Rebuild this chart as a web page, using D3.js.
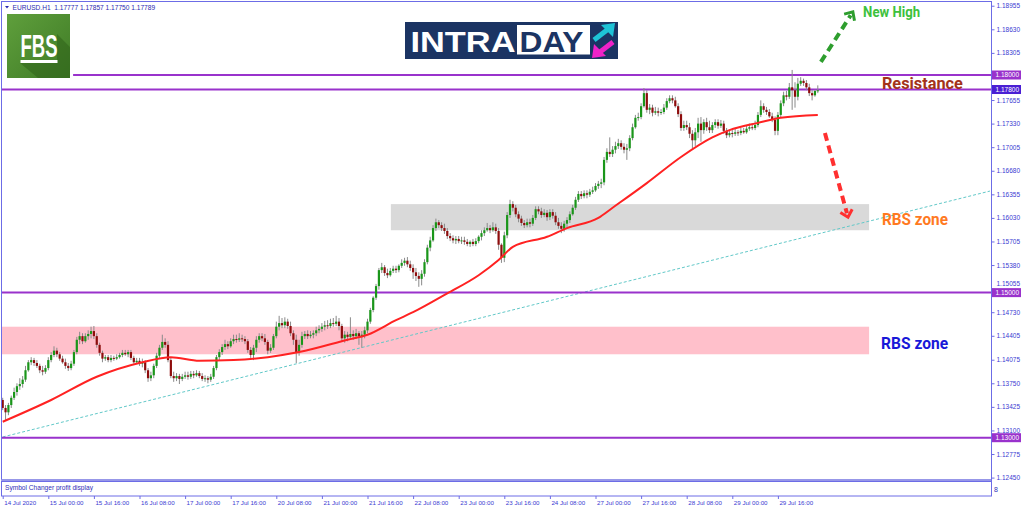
<!DOCTYPE html>
<html><head><meta charset="utf-8">
<script src="https://cdn.jsdelivr.net/npm/d3@7"></script>
<style>body{margin:0;background:#fff;overflow:hidden}svg{display:block}</style>
</head><body>
<svg id="c" width="1024" height="511"></svg>
<script>
// ---------- DATA (EURUSD H1, 14 Jul 2020 08:00 -> 30 Jul 2020 06:00) ----------
const opens=[
1.1352,1.1341,1.1335,1.1345,1.1355,1.1363,1.1371,1.1374,1.1380,1.1393,1.1404,1.1407,1.1403,1.1399,1.1393,1.1391,
1.1396,1.1407,1.1414,1.1420,1.1415,1.1409,1.1404,1.1399,1.1396,1.1402,1.1418,1.1435,1.1440,1.1433,1.1440,1.1443,
1.1447,1.1440,1.1428,1.1417,1.1409,1.1411,1.1407,1.1410,1.1409,1.1411,1.1414,1.1417,1.1415,1.1418,1.1410,1.1404,
1.1406,1.1402,1.1404,1.1393,1.1382,1.1386,1.1399,1.1413,1.1424,1.1432,1.1428,1.1407,1.1385,1.1382,1.1385,1.1381,
1.1384,1.1386,1.1384,1.1388,1.1386,1.1389,1.1385,1.1381,1.1382,1.1380,1.1384,1.1396,1.1411,1.1418,1.1425,1.1429,
1.1426,1.1433,1.1436,1.1435,1.1437,1.1436,1.1433,1.1421,1.1414,1.1424,1.1435,1.1440,1.1437,1.1432,1.1420,1.1424,
1.1440,1.1453,1.1458,1.1455,1.1460,1.1454,1.1444,1.1435,1.1418,1.1428,1.1440,1.1443,1.1440,1.1442,1.1444,1.1448,
1.1450,1.1453,1.1455,1.1454,1.1458,1.1457,1.1460,1.1454,1.1437,1.1442,1.1439,1.1443,1.1440,1.1444,1.1440,1.1442,
1.1448,1.1460,1.1476,1.1493,1.1509,1.1531,1.1535,1.1527,1.1524,1.1530,1.1533,1.1531,1.1537,1.1541,1.1544,1.1539,
1.1534,1.1528,1.1523,1.1519,1.1526,1.1542,1.1562,1.1572,1.1589,1.1597,1.1593,1.1589,1.1585,1.1578,1.1575,1.1572,
1.1574,1.1571,1.1572,1.1570,1.1567,1.1570,1.1567,1.1571,1.1577,1.1582,1.1586,1.1589,1.1586,1.1590,1.1585,1.1566,
1.1548,1.1579,1.1607,1.1622,1.1617,1.1608,1.1602,1.1596,1.1593,1.1597,1.1595,1.1603,1.1615,1.1612,1.1607,1.1610,
1.1604,1.1611,1.1606,1.1597,1.1592,1.1588,1.1595,1.1600,1.1608,1.1617,1.1628,1.1636,1.1633,1.1637,1.1635,1.1639,
1.1641,1.1647,1.1650,1.1652,1.1683,1.1694,1.1691,1.1697,1.1702,1.1706,1.1701,1.1697,1.1699,1.1713,1.1728,1.1741,
1.1742,1.1757,1.1775,1.1752,1.1755,1.1748,1.1750,1.1748,1.1749,1.1755,1.1764,1.1768,1.1765,1.1757,1.1746,1.1727,
1.1731,1.1728,1.1719,1.1710,1.1721,1.1733,1.1724,1.1735,1.1728,1.1724,1.1731,1.1735,1.1730,1.1733,1.1723,1.1717,
1.1720,1.1719,1.1721,1.1720,1.1723,1.1721,1.1726,1.1728,1.1727,1.1731,1.1745,1.1757,1.1752,1.1749,1.1743,1.1738,
1.1723,1.1745,1.1761,1.1772,1.1770,1.1783,1.1779,1.1770,1.1788,1.1792,1.1789,1.1783,1.1775,1.1772,1.17777];
const highs=[
1.1355,1.1345,1.1348,1.1358,1.1369,1.1375,1.1382,1.1385,1.1399,1.1407,1.1411,1.1410,1.1407,1.1402,1.1399,1.1400,
1.1411,1.1418,1.1426,1.1424,1.1418,1.1413,1.1409,1.1403,1.1406,1.1421,1.1439,1.1446,1.1444,1.1444,1.1448,1.1453,
1.1454,1.1444,1.1431,1.1420,1.1414,1.1414,1.1414,1.1413,1.1415,1.1417,1.1421,1.1421,1.1421,1.1421,1.1413,1.1410,
1.1410,1.1409,1.1407,1.1396,1.1391,1.1402,1.1417,1.1428,1.1442,1.1437,1.1433,1.1410,1.1391,1.1389,1.1388,1.1388,
1.1391,1.1391,1.1392,1.1392,1.1393,1.1392,1.1389,1.1386,1.1385,1.1388,1.1399,1.1414,1.1422,1.1429,1.1435,1.1433,
1.1437,1.1442,1.1442,1.1444,1.1442,1.1440,1.1436,1.1425,1.1428,1.1440,1.1444,1.1444,1.1443,1.1435,1.1429,1.1443,
1.1460,1.1468,1.1465,1.1466,1.1464,1.1460,1.1448,1.1442,1.1435,1.1446,1.1447,1.1448,1.1447,1.1448,1.1453,1.1455,
1.1458,1.1461,1.1462,1.1464,1.1465,1.1468,1.1465,1.1457,1.1447,1.1446,1.1466,1.1448,1.1450,1.1447,1.1447,1.1453,
1.1464,1.1479,1.1495,1.1512,1.1534,1.1541,1.1538,1.1533,1.1534,1.1537,1.1537,1.1539,1.1546,1.1548,1.1549,1.1544,
1.1539,1.1534,1.1528,1.1531,1.1546,1.1566,1.1577,1.1593,1.1602,1.1600,1.1597,1.1595,1.1589,1.1582,1.1579,1.1578,
1.1578,1.1577,1.1577,1.1574,1.1572,1.1574,1.1575,1.1579,1.1586,1.1590,1.1596,1.1593,1.1597,1.1595,1.1589,1.1568,
1.1584,1.1611,1.1628,1.1626,1.1621,1.1612,1.1606,1.1600,1.1602,1.1602,1.1607,1.1619,1.1619,1.1617,1.1615,1.1614,
1.1615,1.1615,1.1611,1.1603,1.1597,1.1599,1.1604,1.1612,1.1621,1.1632,1.1640,1.1640,1.1641,1.1641,1.1643,1.1646,
1.1651,1.1654,1.1657,1.1687,1.1699,1.1714,1.1702,1.1708,1.1712,1.1710,1.1706,1.1705,1.1717,1.1733,1.1745,1.1748,
1.1761,1.1782,1.1779,1.1760,1.1759,1.1756,1.1755,1.1753,1.1760,1.1768,1.1772,1.1772,1.1770,1.1761,1.1750,1.1737,
1.1737,1.1734,1.1724,1.1727,1.1741,1.1742,1.1739,1.1741,1.1737,1.1735,1.1739,1.1739,1.1738,1.1737,1.1727,1.1724,
1.1724,1.1726,1.1724,1.1727,1.1727,1.1730,1.1733,1.1733,1.1737,1.1749,1.1765,1.1761,1.1756,1.1753,1.1748,1.1743,
1.1749,1.1765,1.1777,1.1778,1.1789,1.1807,1.1790,1.1796,1.1797,1.1795,1.1793,1.1788,1.1779,1.1780,1.17857];
const lows=[
1.1338,1.1324,1.1331,1.1341,1.1352,1.1358,1.1366,1.1369,1.1377,1.1391,1.1400,1.1399,1.1396,1.1389,1.1386,1.1388,
1.1393,1.1404,1.1411,1.1411,1.1406,1.1402,1.1395,1.1392,1.1393,1.1399,1.1415,1.1429,1.1429,1.1431,1.1435,1.1437,
1.1436,1.1424,1.1413,1.1404,1.1406,1.1404,1.1404,1.1406,1.1407,1.1409,1.1411,1.1413,1.1411,1.1407,1.1402,1.1402,
1.1399,1.1397,1.1389,1.1377,1.1378,1.1382,1.1396,1.1410,1.1421,1.1424,1.1404,1.1382,1.1377,1.1378,1.1374,1.1378,
1.1381,1.1380,1.1381,1.1382,1.1384,1.1382,1.1378,1.1377,1.1375,1.1377,1.1381,1.1393,1.1407,1.1414,1.1421,1.1422,
1.1424,1.1429,1.1431,1.1432,1.1432,1.1429,1.1417,1.1410,1.1407,1.1418,1.1431,1.1433,1.1428,1.1415,1.1417,1.1421,
1.1437,1.1448,1.1451,1.1451,1.1450,1.1440,1.1428,1.1403,1.1413,1.1424,1.1436,1.1436,1.1437,1.1437,1.1440,1.1444,
1.1446,1.1448,1.1450,1.1451,1.1453,1.1454,1.1448,1.1432,1.1431,1.1433,1.1435,1.1435,1.1436,1.1428,1.1424,1.1437,
1.1444,1.1457,1.1473,1.1490,1.1504,1.1527,1.1523,1.1520,1.1522,1.1527,1.1527,1.1528,1.1534,1.1537,1.1535,1.1530,
1.1519,1.1516,1.1508,1.1510,1.1522,1.1539,1.1557,1.1570,1.1585,1.1589,1.1585,1.1581,1.1574,1.1571,1.1568,1.1567,
1.1568,1.1567,1.1566,1.1564,1.1563,1.1564,1.1564,1.1568,1.1572,1.1578,1.1584,1.1582,1.1584,1.1581,1.1559,1.1541,
1.1542,1.1575,1.1603,1.1612,1.1604,1.1597,1.1592,1.1589,1.1590,1.1590,1.1592,1.1600,1.1608,1.1603,1.1604,1.1599,
1.1600,1.1602,1.1593,1.1588,1.1582,1.1584,1.1589,1.1596,1.1606,1.1614,1.1625,1.1629,1.1630,1.1630,1.1632,1.1636,
1.1639,1.1643,1.1644,1.1648,1.1679,1.1687,1.1687,1.1692,1.1698,1.1697,1.1692,1.1683,1.1695,1.1710,1.1726,1.1737,
1.1739,1.1755,1.1748,1.1746,1.1743,1.1745,1.1743,1.1745,1.1746,1.1752,1.1761,1.1761,1.1755,1.1742,1.1723,1.1723,
1.1724,1.1713,1.1698,1.1702,1.1713,1.1708,1.1719,1.1723,1.1720,1.1720,1.1727,1.1726,1.1727,1.1719,1.1713,1.1714,
1.1714,1.1716,1.1716,1.1717,1.1719,1.1719,1.1723,1.1724,1.1724,1.1728,1.1742,1.1748,1.1745,1.1741,1.1735,1.1717,
1.1717,1.1742,1.1757,1.1765,1.1767,1.1752,1.1755,1.1765,1.1785,1.1785,1.1779,1.1771,1.1765,1.1770,1.17750];
const closes=[
1.1341,1.1335,1.1345,1.1355,1.1363,1.1371,1.1374,1.1380,1.1393,1.1404,1.1407,1.1403,1.1399,1.1393,1.1391,1.1396,
1.1407,1.1414,1.1420,1.1415,1.1409,1.1404,1.1399,1.1396,1.1402,1.1418,1.1435,1.1440,1.1433,1.1440,1.1443,1.1447,
1.1440,1.1428,1.1417,1.1409,1.1411,1.1407,1.1410,1.1409,1.1411,1.1414,1.1417,1.1415,1.1418,1.1410,1.1404,1.1406,
1.1402,1.1404,1.1393,1.1382,1.1386,1.1399,1.1413,1.1424,1.1432,1.1428,1.1407,1.1385,1.1382,1.1385,1.1381,1.1384,
1.1386,1.1384,1.1388,1.1386,1.1389,1.1385,1.1381,1.1382,1.1380,1.1384,1.1396,1.1411,1.1418,1.1425,1.1429,1.1426,
1.1433,1.1436,1.1435,1.1437,1.1436,1.1433,1.1421,1.1414,1.1424,1.1435,1.1440,1.1437,1.1432,1.1420,1.1424,1.1440,
1.1453,1.1458,1.1455,1.1460,1.1454,1.1444,1.1435,1.1418,1.1428,1.1440,1.1443,1.1440,1.1442,1.1444,1.1448,1.1450,
1.1453,1.1455,1.1454,1.1458,1.1457,1.1460,1.1454,1.1437,1.1442,1.1439,1.1443,1.1440,1.1444,1.1440,1.1442,1.1448,
1.1460,1.1476,1.1493,1.1509,1.1531,1.1535,1.1527,1.1524,1.1530,1.1533,1.1531,1.1537,1.1541,1.1544,1.1539,1.1534,
1.1528,1.1523,1.1519,1.1526,1.1542,1.1562,1.1572,1.1589,1.1597,1.1593,1.1589,1.1585,1.1578,1.1575,1.1572,1.1574,
1.1571,1.1572,1.1570,1.1567,1.1570,1.1567,1.1571,1.1577,1.1582,1.1586,1.1589,1.1586,1.1590,1.1585,1.1566,1.1548,
1.1579,1.1607,1.1622,1.1617,1.1608,1.1602,1.1596,1.1593,1.1597,1.1595,1.1603,1.1615,1.1612,1.1607,1.1610,1.1604,
1.1611,1.1606,1.1597,1.1592,1.1588,1.1595,1.1600,1.1608,1.1617,1.1628,1.1636,1.1633,1.1637,1.1635,1.1639,1.1641,
1.1647,1.1650,1.1652,1.1683,1.1694,1.1691,1.1697,1.1702,1.1706,1.1701,1.1697,1.1699,1.1713,1.1728,1.1741,1.1742,
1.1757,1.1775,1.1752,1.1755,1.1748,1.1750,1.1748,1.1749,1.1755,1.1764,1.1768,1.1765,1.1757,1.1746,1.1727,1.1731,
1.1728,1.1719,1.1710,1.1721,1.1733,1.1724,1.1735,1.1728,1.1724,1.1731,1.1735,1.1730,1.1733,1.1723,1.1717,1.1720,
1.1719,1.1721,1.1720,1.1723,1.1721,1.1726,1.1728,1.1727,1.1731,1.1745,1.1757,1.1752,1.1749,1.1743,1.1738,1.1723,
1.1745,1.1761,1.1772,1.1770,1.1783,1.1779,1.1770,1.1788,1.1792,1.1789,1.1783,1.1775,1.1772,1.1778,1.17789];

// moving average (red line) read at sample bars
const maIdx =[0,17,33,49,59,69,81,93,104,121,128,138,144,156,167,174,179,191,198,209,214,226,238,249,255,265,273,286];
const maVals=[1.1322,1.1352,1.1384,1.1404,1.1411,1.1406,1.1407,1.1411,1.1418,1.1435,1.1442,1.1462,1.1473,1.1499,1.1524,1.1545,1.1563,1.1577,1.1589,1.1603,1.1617,1.1651,1.1687,1.1714,1.1724,1.1734,1.1741,1.1745];

// time axis
const xTickIdx=[0,16,32,48,64,80,96,112,128,144,160,176,192,208,224,240,256,272];
const xTickLabels=["14 Jul 2020","15 Jul 00:00","15 Jul 16:00","16 Jul 08:00","17 Jul 00:00","17 Jul 16:00","20 Jul 08:00","21 Jul 00:00","21 Jul 16:00","22 Jul 08:00","23 Jul 00:00","23 Jul 16:00","24 Jul 08:00","27 Jul 00:00","27 Jul 16:00","28 Jul 08:00","29 Jul 00:00","29 Jul 16:00"];
// price axis
const yTickLabels=["1.18955","1.18630","1.18305","1.17655","1.17330","1.17005","1.16680","1.16355","1.16030","1.15705","1.15380","1.15055","1.14730","1.14405","1.14075","1.13750","1.13425","1.13100","1.12775","1.12450"];

// horizontal levels
const levelPrices=[1.18000,1.17800,1.15000,1.13000];
const levelFrom  =[24.7,-2,-2,-2];
const levelBoxColors=["#9932cc","#4a1fd4","#9932cc","#9932cc"];

// zones
const zoneNames=["grey","pink"];
const zoneFrom=[136.2,-2];
const zoneTo=[304,304];
const zoneTop=[1.1622,1.1453];
const zoneBottom=[1.1586,1.1415];
const zoneColors=["#d9d9d9","#ffc0cb"];

// trend line anchors
const trendIdx=[0,346.4];
const trendVals=[1.1301,1.1640];

// arrows [fromIdx, fromPrice, toIdx, toPrice]
const arrowGreen=[287.1,1.1818,298.3,1.1887];
const arrowRed=[288.5,1.1720,296.6,1.1604];

// labels
const noteTexts=["New High","Resistance","RBS zone","RBS zone"];
const noteIdx=[301.9,308.5,308.5,308.2];
const notePrice=[1.1880,1.1781,1.1593,1.1422];
const noteColors=["#3dc13d","#a3321a","#ff7a1f","#1818d8"];
const noteSizes=[14,17,17,17];
const noteWidths=[57,81,66,67];

// ---------- CHART ----------
const svg=d3.select("#c");
const frameL=1.5, frameR=991.5, frameT=1.5, frameB=480;
const x=d3.scaleLinear().domain([0,286]).range([2.7,2.7+286*2.85]);
const y=d3.scaleLinear().domain([1.13,1.18]).range([437.7,75]);

svg.append("rect").attr("width",1024).attr("height",511).attr("fill","#fff");
svg.append("defs").append("clipPath").attr("id","clip").append("rect")
  .attr("x",frameL+0.5).attr("y",frameT+0.5).attr("width",frameR-frameL-1).attr("height",frameB-frameT-1);
const g=svg.append("g").attr("clip-path","url(#clip)");

// zones
g.selectAll("rect.zone").data(zoneNames).join("rect").attr("class","zone")
  .attr("x",(d,i)=>x(zoneFrom[i])).attr("width",(d,i)=>x(zoneTo[i])-x(zoneFrom[i]))
  .attr("y",(d,i)=>y(zoneTop[i])).attr("height",(d,i)=>y(zoneBottom[i])-y(zoneTop[i]))
  .attr("fill",(d,i)=>zoneColors[i]);

// trend line
g.append("line").attr("x1",x(trendIdx[0])).attr("y1",y(trendVals[0]))
  .attr("x2",x(trendIdx[1])).attr("y2",y(trendVals[1]))
  .attr("stroke","#62c8c8").attr("stroke-width",1).attr("stroke-dasharray","3,2");

// levels
g.selectAll("line.level").data(levelPrices).join("line").attr("class","level")
  .attr("x1",(d,i)=>x(levelFrom[i])).attr("x2",frameR)
  .attr("y1",d=>y(d)).attr("y2",d=>y(d))
  .attr("stroke","#9932cc").attr("stroke-width",2);

// candles
const bars=d3.range(closes.length).map(i=>({i,o:opens[i],h:highs[i],l:lows[i],c:closes[i]}));
g.selectAll("line.wick").data(bars).join("line").attr("class","wick")
  .attr("x1",d=>x(d.i)).attr("x2",d=>x(d.i)).attr("y1",d=>y(d.h)).attr("y2",d=>y(d.l))
  .attr("stroke","#8a8a8a").attr("stroke-width",1);
g.selectAll("rect.body").data(bars).join("rect").attr("class","body")
  .attr("x",d=>x(d.i)-1.1).attr("width",2.2)
  .attr("y",d=>y(Math.max(d.o,d.c)))
  .attr("height",d=>Math.max(1,Math.abs(y(d.o)-y(d.c))))
  .attr("fill",d=>d.c>=d.o?"#1a961a":"#8e0c0c");

// moving average
g.append("path").datum(maIdx.map((d,i)=>[d,maVals[i]]))
  .attr("d",d3.line().x(d=>x(d[0])).y(d=>y(d[1])).curve(d3.curveMonotoneX))
  .attr("fill","none").attr("stroke","#ff2222").attr("stroke-width",2);

// arrows
function arrow(a,color){
  const x1=x(a[0]),y1=y(a[1]),x2=x(a[2]),y2=y(a[3]);
  const ang=Math.atan2(y2-y1,x2-x1);
  g.append("line").attr("x1",x1).attr("y1",y1).attr("x2",x2-4*Math.cos(ang)).attr("y2",y2-4*Math.sin(ang))
    .attr("stroke",color).attr("stroke-width",4).attr("stroke-dasharray","8,5");
  const L=9, s=0.75;
  const p=[[x2-L*Math.cos(ang-s),y2-L*Math.sin(ang-s)],[x2,y2],[x2-L*Math.cos(ang+s),y2-L*Math.sin(ang+s)]];
  g.append("path").attr("d",d3.line()(p)).attr("fill","none").attr("stroke",color).attr("stroke-width",3);
}
arrow(arrowGreen,"#2e9e2e");
arrow(arrowRed,"#ff3030");

// notes
g.selectAll("text.note").data(noteTexts).join("text").attr("class","note")
  .attr("x",(d,i)=>x(noteIdx[i])).attr("y",(d,i)=>y(notePrice[i]))
  .attr("fill",(d,i)=>noteColors[i]).attr("font-family","Roboto, 'Liberation Sans', sans-serif")
  .attr("font-weight","bold").attr("font-size",(d,i)=>noteSizes[i])
  .attr("textLength",(d,i)=>noteWidths[i]).attr("lengthAdjust","spacingAndGlyphs").text(d=>d);

// ---------- LOGOS ----------
const defs=svg.select("defs");
const gr=defs.append("linearGradient").attr("id","fbsg").attr("x1",0).attr("y1",0).attr("x2",1).attr("y2",1);
gr.append("stop").attr("offset","0").attr("stop-color","#5f9f3c");
gr.append("stop").attr("offset","1").attr("stop-color","#3f7b26");
svg.append("rect").attr("x",7).attr("y",14).attr("width",63).attr("height",64).attr("fill","url(#fbsg)");
svg.append("path").attr("d","M57,34 L70,47 L70,78 L38,78 L20,63 L57,63 Z").attr("fill","#2f6219").attr("opacity",0.55);
svg.append("text").attr("x",20.5).attr("y",57).attr("fill","#fff").attr("font-family","'Liberation Sans', Arial, sans-serif")
  .attr("font-weight","bold").attr("font-size",31).attr("textLength",37).attr("lengthAdjust","spacingAndGlyphs").text("FBS");
svg.append("rect").attr("x",20.5).attr("y",60).attr("width",37).attr("height",3).attr("fill","#fff");

svg.append("rect").attr("x",405).attr("y",22).attr("width",213).attr("height",37).attr("fill","#1b3463");
svg.append("text").attr("x",410.5).attr("y",52).attr("fill","#fff").attr("font-family","'Liberation Sans', Arial, sans-serif")
  .attr("font-weight","bold").attr("font-size",29).attr("textLength",105).attr("lengthAdjust","spacingAndGlyphs").text("INTRA");
svg.append("rect").attr("x",517).attr("y",25).attr("width",73).attr("height",29.5).attr("fill","#fff");
svg.append("text").attr("x",519.5).attr("y",52).attr("fill","#1b3463").attr("font-family","'Liberation Sans', Arial, sans-serif")
  .attr("font-weight","bold").attr("font-size",29).attr("textLength",64).attr("lengthAdjust","spacingAndGlyphs").text("DAY");
svg.append("line").attr("x1",594).attr("y1",40).attr("x2",607).attr("y2",30).attr("stroke","#1ec3d6").attr("stroke-width",5);
svg.append("path").attr("d","M615,23 L601,25 L613,37 Z").attr("fill","#1ec3d6");
svg.append("line").attr("x1",613).attr("y1",42).attr("x2",600).attr("y2",52).attr("stroke","#ee22c8").attr("stroke-width",5);
svg.append("path").attr("d","M592,58 L606,56 L594,44 Z").attr("fill","#ee22c8");

// ---------- FRAME & AXES ----------
const frameColor="#6c6ce6";
svg.append("rect").attr("x",frameL).attr("y",frameT).attr("width",frameR-frameL).attr("height",frameB-frameT)
  .attr("fill","none").attr("stroke",frameColor).attr("stroke-width",1);
svg.append("line").attr("x1",frameL).attr("x2",frameR).attr("y1",frameB).attr("y2",frameB).attr("stroke","#9797e8").attr("stroke-width",2);
svg.append("rect").attr("x",frameL).attr("y",481.5).attr("width",frameR-frameL).attr("height",14.5)
  .attr("fill","none").attr("stroke",frameColor).attr("stroke-width",1);
svg.append("text").attr("x",5).attr("y",490).attr("fill","#3030b8").attr("font-family","'Liberation Sans', Arial, sans-serif")
  .attr("font-size",6.6).text("Symbol Changer profit display");
svg.append("text").attr("x",994).attr("y",491.5).attr("fill","#3030b8").attr("font-family","'Liberation Sans', Arial, sans-serif")
  .attr("font-size",7).text("8");

// header
svg.append("path").attr("d","M5,6 L9,6 L7,8.5 Z").attr("fill","#2a2ab0");
const last=closes.length-1;
svg.append("text").attr("x",12.5).attr("y",9.6).attr("fill","#2a2ab0").attr("font-family","'Liberation Sans', Arial, sans-serif")
  .attr("font-size",6.6).attr("xml:space","preserve")
  .text("EURUSD.H1  "+[opens[last],highs[last],lows[last],closes[last]].map(v=>v.toFixed(5)).join(" "));

// price axis
const yAxis=d3.axisRight(y).tickValues(yTickLabels.map(Number)).tickFormat((d,i)=>yTickLabels[i]).tickSize(3).tickPadding(2);
const ya=svg.append("g").attr("transform",`translate(${frameR},0)`).call(yAxis);
ya.select(".domain").remove();
ya.selectAll("line").attr("stroke",frameColor);
ya.selectAll("text").attr("fill","#3a3ad2").attr("font-family","'Liberation Sans', Arial, sans-serif").attr("font-size",6.5);
// a tick label sitting on a level box is lifted just above it (as the terminal does)
ya.selectAll("text").filter(d=>levelPrices.some(p=>Math.abs(y(d)-y(p))<8 && y(d)>y(p)-8 && Math.abs(y(d)-y(p))<6))
  .attr("dy","-0.45em");

// level price boxes
const lb=svg.selectAll("g.lbox").data(levelPrices).join("g").attr("class","lbox")
  .attr("transform",d=>`translate(${frameR+0.5},${y(d)})`);
lb.append("rect").attr("x",0).attr("y",-4.5).attr("width",29).attr("height",9).attr("fill",(d,i)=>levelBoxColors[i]);
lb.append("text").attr("x",3.5).attr("y",2.4).attr("fill","#fff").attr("font-family","'Liberation Sans', Arial, sans-serif")
  .attr("font-size",6.5).text(d=>d.toFixed(5));

// time axis
const xAxis=d3.axisBottom(x).tickValues(xTickIdx).tickFormat((d,i)=>xTickLabels[i]).tickSize(3).tickPadding(2);
const xa=svg.append("g").attr("transform","translate(0,496)").call(xAxis);
xa.select(".domain").remove();
xa.selectAll("line").attr("stroke",frameColor);
xa.selectAll("text").attr("text-anchor","start").attr("x",1).attr("fill","#3a3ad2")
  .attr("font-family","'Liberation Sans', Arial, sans-serif").attr("font-size",6.2);
svg.append("line").attr("x1",frameR).attr("x2",frameR).attr("y1",frameT).attr("y2",496).attr("stroke",frameColor);
</script>
</body></html>
